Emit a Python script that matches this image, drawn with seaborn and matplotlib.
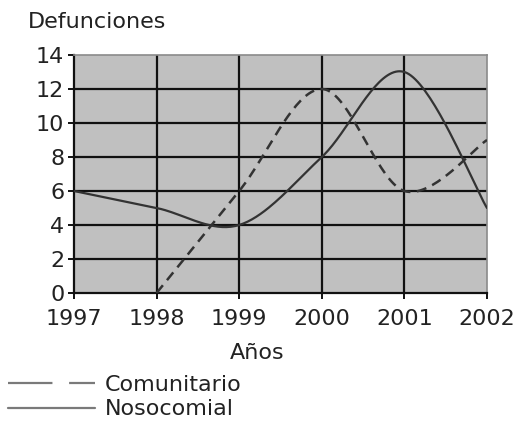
import numpy as np
import pandas as pd
import matplotlib
matplotlib.use("Agg")
import matplotlib.pyplot as plt
from matplotlib.path import Path
from matplotlib.lines import Line2D
import seaborn as sns

years = [1997, 1998, 1999, 2000, 2001, 2002]
comunitario_years = [1998, 1999, 2000, 2001, 2002]
comunitario = [0, 6, 12, 6, 9]
nosocomial_years = [1997, 1998, 1999, 2000, 2001, 2002]
nosocomial = [6, 5, 4, 8, 13, 5]
y_ticks = [0, 2, 4, 6, 8, 10, 12, 14]
x_label = "Años"
y_label = "Defunciones"
series_names = ["Comunitario", "Nosocomial"]


def smooth_curve(xs, ys, n=40):
    """Excel-style smoothed line: Catmull-Rom converted to cubic Bezier segments."""
    pts = np.column_stack([xs, ys]).astype(float)
    verts = [pts[0]]
    codes = [Path.MOVETO]
    for i in range(len(pts) - 1):
        p0 = pts[i - 1] if i > 0 else pts[i]
        p1 = pts[i]
        p2 = pts[i + 1]
        p3 = pts[i + 2] if i + 2 < len(pts) else pts[i + 1]
        c1 = p1 + (p2 - p0) / 6.0
        c2 = p2 - (p3 - p1) / 6.0
        verts += [c1, c2, p2]
        codes += [Path.CURVE4] * 3
    path = Path(verts, codes)
    out = []
    for seg, _ in path.iter_bezier():
        t = np.linspace(0, 1, n)
        out.append(seg.point_at_t(t))
    return np.vstack(out)


sns.set_style("white")
plt.rcParams["font.family"] = ["DejaVu Sans"]

fig = plt.figure(figsize=(5.17, 4.26), dpi=100)
ax = fig.add_axes([74 / 517, 1 - 293 / 426, (487 - 74) / 517, (293 - 55) / 426])
ax.set_facecolor("#c0c0c0")

line_color = "#333333"
text_color = "#222222"
c_curve = smooth_curve(comunitario_years, comunitario)
n_curve = smooth_curve(nosocomial_years, nosocomial)
df_c = pd.DataFrame({"x": c_curve[:, 0], "y": c_curve[:, 1]})
df_n = pd.DataFrame({"x": n_curve[:, 0], "y": n_curve[:, 1]})
sns.lineplot(data=df_n, x="x", y="y", sort=False, ax=ax, color=line_color,
             linewidth=1.6, estimator=None, zorder=5)
sns.lineplot(data=df_c, x="x", y="y", sort=False, ax=ax, color=line_color,
             linewidth=1.8, estimator=None, zorder=5, dashes=False)
ax.lines[-1].set_dashes((4, 2.6))

ax.set_xlim(years[0], years[-1])
ax.set_ylim(y_ticks[0], y_ticks[-1])
ax.set_xticks(years)
ax.set_xticklabels([str(y) for y in years])
ax.set_yticks(y_ticks)
ax.set_xlabel("")
ax.set_ylabel("")

ax.grid(True, color="#111111", linewidth=1.6)
xg = ax.xaxis.get_gridlines()
yg = ax.yaxis.get_gridlines()
for g in (xg[0], xg[-1], yg[0], yg[-1]):
    g.set_visible(False)
ax.set_axisbelow(True)

for side in ["left", "bottom"]:
    ax.spines[side].set_color("#111111")
    ax.spines[side].set_linewidth(1.6)
for side in ["top", "right"]:
    ax.spines[side].set_visible(True)
    ax.spines[side].set_color("#8a8a8a")
    ax.spines[side].set_linewidth(1.2)

ax.tick_params(axis="both", which="both", direction="out", length=4, width=1.4,
               color="#111111", labelsize=16, labelcolor=text_color,
               left=True, bottom=True)
ax.tick_params(axis="x", pad=7.5)
ax.tick_params(axis="y", pad=3)

fig.text(28 / 517, 1 - 22 / 426, y_label, fontsize=16, color=text_color,
         ha="left", va="center")
fig.text(257 / 517, 1 - 353 / 426, x_label, fontsize=16, color=text_color,
         ha="center", va="center")

handles = [
    Line2D([], [], color="#7a7a7a", linewidth=1.6, dashes=(20, 7.5)),
    Line2D([], [], color="#7a7a7a", linewidth=1.6),
]
fig.legend(handles, series_names, loc="upper left",
           bbox_to_anchor=(8 / 517, 1 - 375 / 426), frameon=False,
           fontsize=16, handlelength=3.9, handletextpad=0.45,
           labelspacing=0.2, borderpad=0, borderaxespad=0,
           labelcolor=text_color)

fig.savefig("out.png", dpi=100, facecolor="white")
